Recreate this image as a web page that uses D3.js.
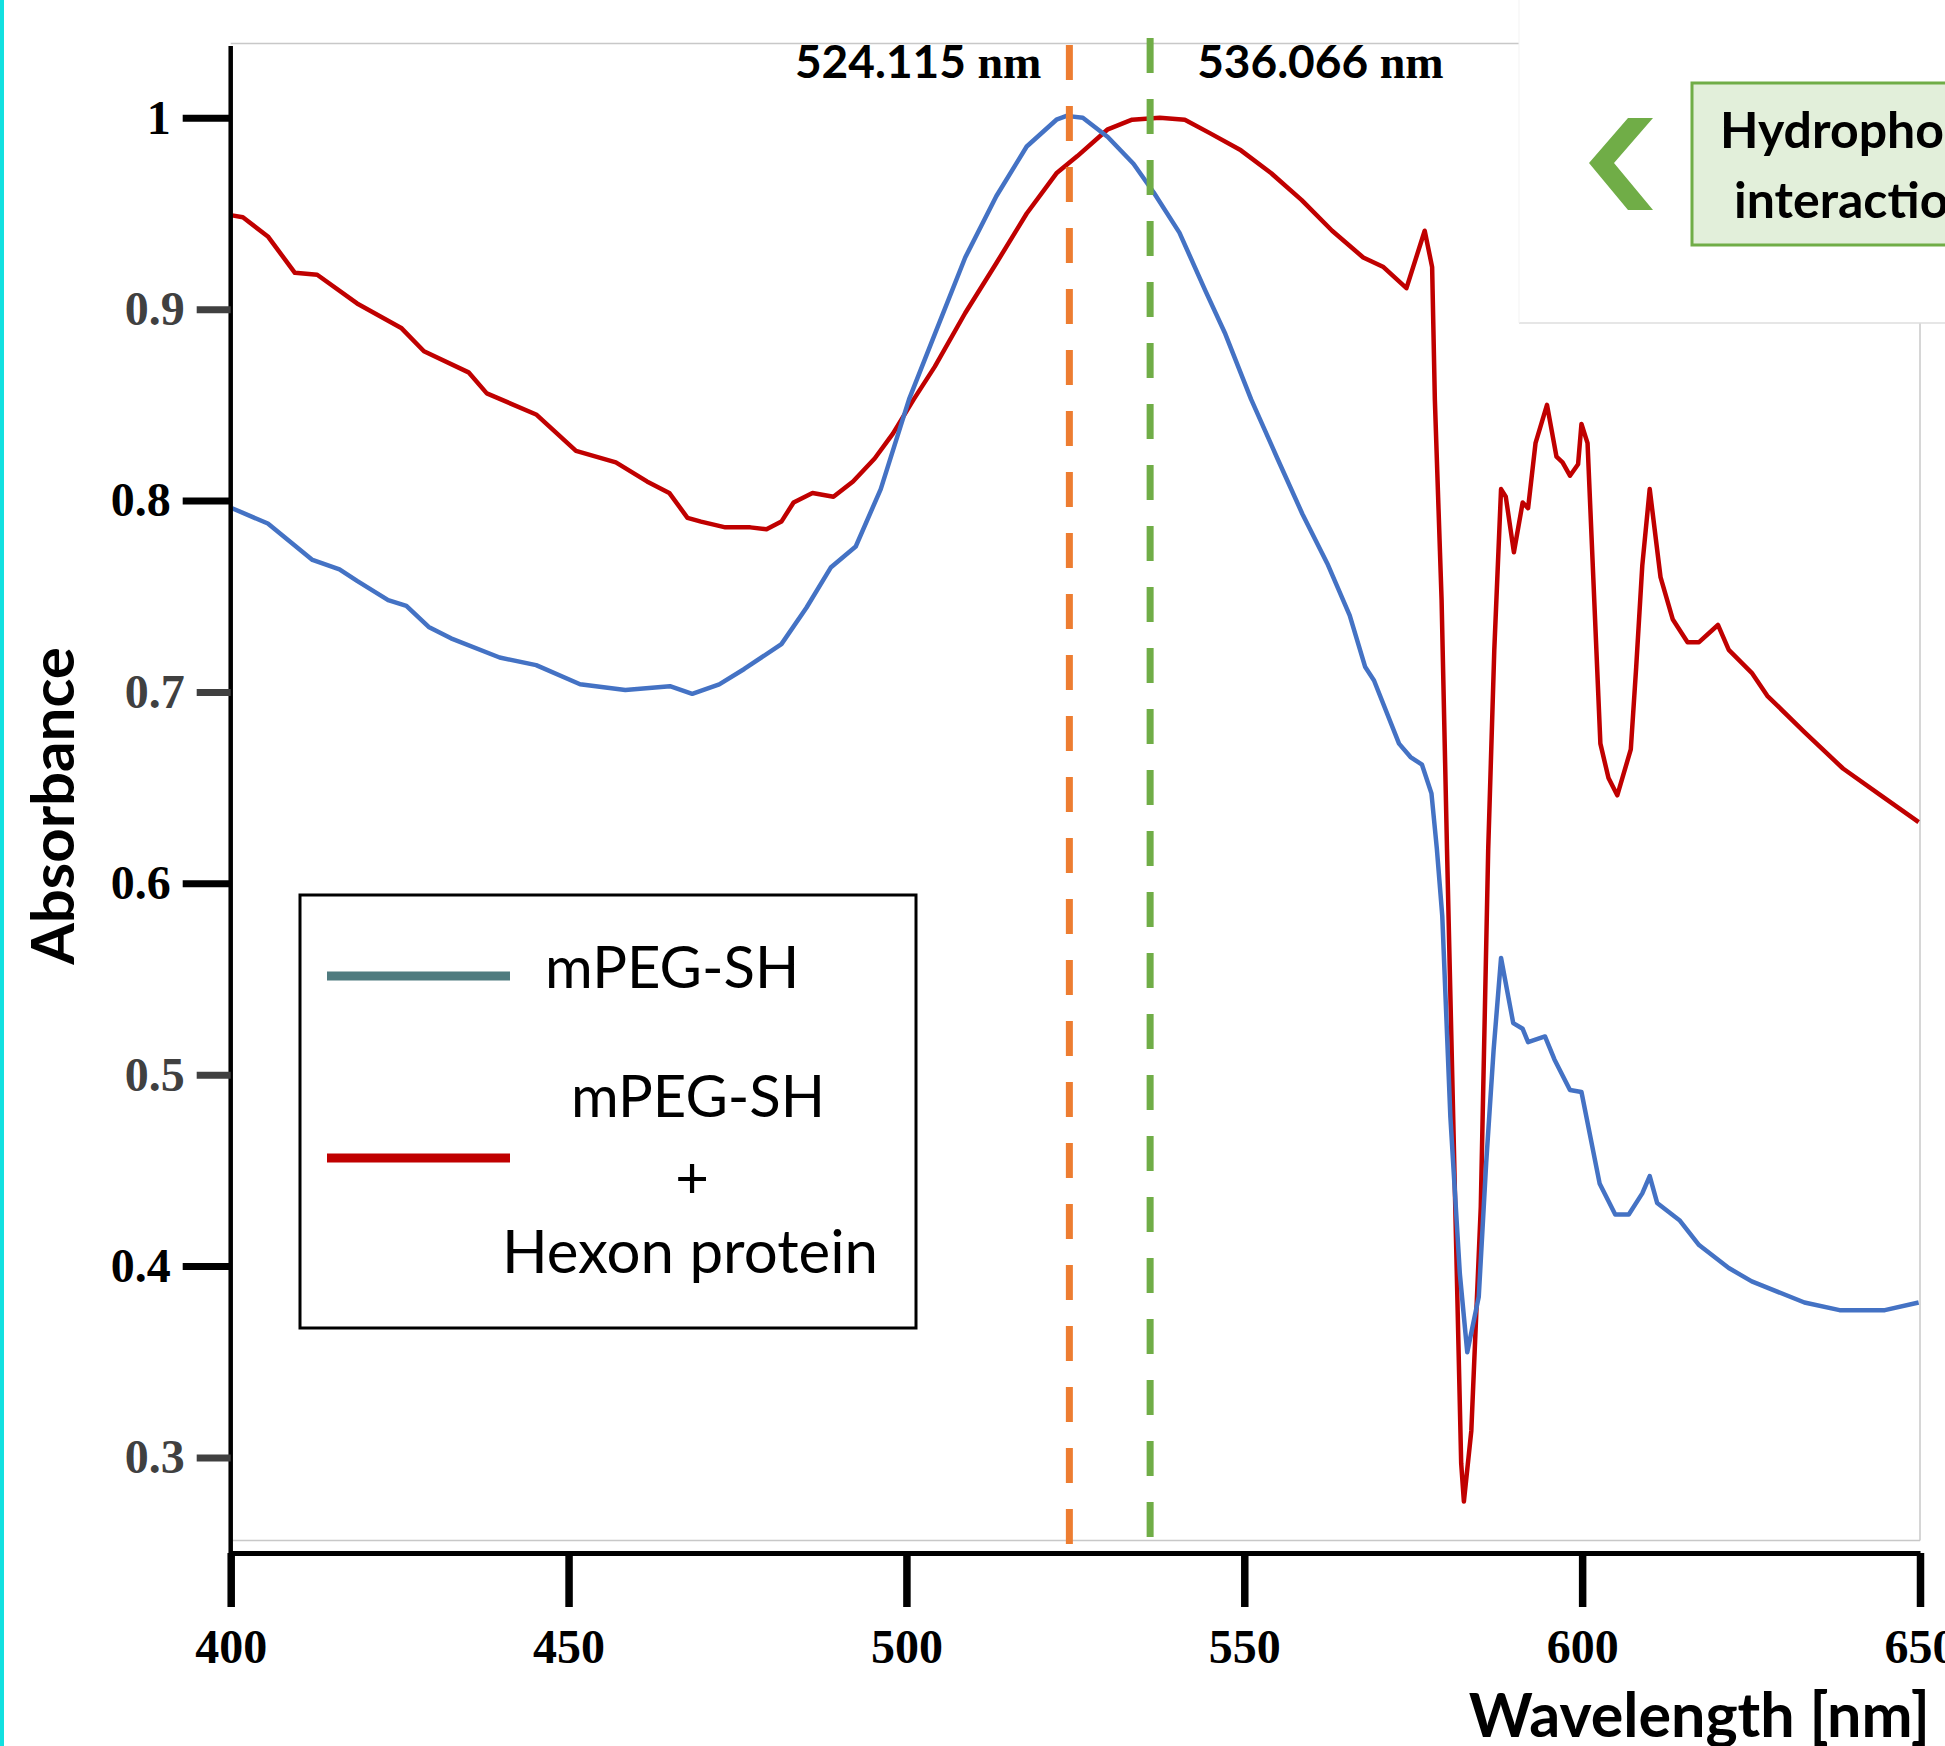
<!DOCTYPE html>
<html>
<head>
<meta charset="utf-8">
<script src="https://cdn.jsdelivr.net/npm/d3@7"></script>
<style>
  body { margin: 0; background: #fff; }
  svg { display: block; }
</style>
</head>
<body>
<svg id="chart" width="1945" height="1746"></svg>
<script>
// Values (wavelength in nm, normalised absorbance)
const blueWl = [400.2,405.5,412.1,416.1,418.7,423.3,426.0,429.3,432.6,439.8,445.2,451.7,458.4,465.0,468.3,472.3,476.0,481.5,485.2,488.8,492.5,496.2,500.4,504.2,508.7,513.3,517.8,522.2,523.7,526.1,529.8,533.6,536.6,540.4,544.2,547.2,551.0,554.9,558.6,562.3,565.6,567.9,569.2,572.9,574.6,576.3,577.7,578.5,579.3,580.5,581.9,583.0,584.7,585.8,586.9,588.0,589.8,591.2,592.0,594.5,595.9,598.2,599.9,602.6,604.9,606.9,608.9,610.0,611.1,614.4,617.3,621.7,625.1,632.9,638.1,644.8,649.8];
const blueAbs = [0.796,0.788,0.769,0.764,0.758,0.748,0.745,0.734,0.728,0.718,0.714,0.704,0.701,0.703,0.699,0.704,0.712,0.725,0.744,0.765,0.776,0.806,0.853,0.887,0.927,0.959,0.985,0.999,1.001,1.000,0.990,0.976,0.961,0.940,0.910,0.887,0.853,0.822,0.793,0.767,0.740,0.713,0.706,0.673,0.666,0.662,0.647,0.618,0.583,0.478,0.396,0.355,0.384,0.454,0.513,0.561,0.527,0.524,0.517,0.520,0.508,0.492,0.491,0.443,0.427,0.427,0.438,0.447,0.433,0.424,0.411,0.399,0.392,0.381,0.377,0.377,0.381];

const redWl = [400.2,401.8,405.5,409.5,412.8,418.7,425.3,428.6,435.2,437.9,445.2,451.1,457.0,461.6,464.9,467.6,469.6,473.2,476.9,479.3,481.5,483.3,486.1,489.2,492.1,495.3,498.0,501.1,504.2,508.7,513.3,517.8,522.2,525.3,529.8,533.4,537.5,541.2,544.9,549.5,554.0,558.5,563.0,567.6,570.6,574.0,576.7,577.8,578.2,579.2,580.0,582.1,582.5,583.6,585.0,586.1,587.0,588.0,588.7,589.9,591.2,592.0,593.1,594.8,596.2,597.1,598.2,599.4,599.9,600.8,602.7,603.9,605.2,607.2,608.0,608.9,610.0,611.6,613.4,615.6,617.3,620.1,621.7,625.1,627.4,632.9,638.6,644.2,649.8];
const redAbs = [0.949,0.948,0.938,0.919,0.918,0.903,0.890,0.878,0.867,0.856,0.845,0.826,0.820,0.810,0.804,0.791,0.789,0.786,0.786,0.785,0.789,0.799,0.804,0.802,0.810,0.822,0.835,0.853,0.870,0.898,0.924,0.950,0.971,0.980,0.994,0.999,1.000,0.999,0.992,0.983,0.971,0.957,0.941,0.927,0.922,0.911,0.941,0.922,0.853,0.748,0.618,0.297,0.277,0.314,0.431,0.618,0.722,0.806,0.802,0.773,0.799,0.796,0.830,0.850,0.823,0.820,0.813,0.819,0.840,0.830,0.673,0.655,0.646,0.670,0.713,0.766,0.806,0.760,0.738,0.726,0.726,0.735,0.722,0.710,0.698,0.679,0.660,0.646,0.632];

const xTicks = [400, 450, 500, 550, 600, 650];
const yTicks = [0.3, 0.4, 0.5, 0.6, 0.7, 0.8, 0.9, 1];
const majorY = [0.4, 0.6, 0.8, 1];
const peakMarks = [524.115, 536.066];
const legendLines = [['mPEG-SH'], ['mPEG-SH', '+', 'Hexon protein']];
const noteLines = ['Hydrophobic', 'interaction'];

const SANS = 'Lato, "Open Sans", sans-serif';
const SERIF = '"Liberation Serif", "Times New Roman", serif';
const BLUE = '#4472C4', RED = '#C00000', ORANGE = '#ED7D31', GREEN = '#70AD47';

const svg = d3.select('#chart');
const plot = { left: 230.7, right: 1920, top: 43.4, bottom: 1540.6 };
const axisY = 1553;

const x = d3.scaleLinear().domain([400, 650]).range([plot.left, plot.right]);
const y = d3.scaleLinear().domain([0.3, 1]).range([1457.5, 117.8]);

// cyan strip on the left edge
svg.append('rect').attr('x', 0).attr('y', 0).attr('width', 4).attr('height', 1746).attr('fill', '#12E0E0');

// plot area frame (light grey)
const frame = svg.append('g').attr('stroke', '#c8c8c8').attr('stroke-width', 1.5);
frame.append('line').attr('x1', plot.left).attr('x2', 1519).attr('y1', plot.top).attr('y2', plot.top);
frame.append('line').attr('x1', plot.right).attr('x2', plot.right).attr('y1', 323).attr('y2', plot.bottom);
frame.append('line').attr('x1', plot.left).attr('x2', plot.right).attr('y1', plot.bottom).attr('y2', plot.bottom);

// spectra
const line = d3.line().x(d => x(d[0])).y(d => y(d[1]));
const redPts = redWl.map((w, i) => [w, redAbs[i]]);
const bluePts = blueWl.map((w, i) => [w, blueAbs[i]]);
svg.append('path').attr('d', line(redPts)).attr('fill', 'none')
  .attr('stroke', RED).attr('stroke-width', 4.5).attr('stroke-linejoin', 'round');
svg.append('path').attr('d', line(bluePts)).attr('fill', 'none')
  .attr('stroke', BLUE).attr('stroke-width', 4.5).attr('stroke-linejoin', 'round');

// peak markers
svg.append('line').attr('x1', x(peakMarks[0])).attr('x2', x(peakMarks[0]))
  .attr('y1', 45).attr('y2', 1547).attr('stroke', ORANGE).attr('stroke-width', 7)
  .attr('stroke-dasharray', '35,26');
svg.append('line').attr('x1', x(peakMarks[1])).attr('x2', x(peakMarks[1]))
  .attr('y1', 38).attr('y2', 1541).attr('stroke', GREEN).attr('stroke-width', 7)
  .attr('stroke-dasharray', '35,26');

const fmtPeak = d3.format('.3f');
peakMarks.forEach((p, i) => {
  const t = svg.append('text')
    .attr('x', i === 0 ? x(p) - 28 : x(p) + 47)
    .attr('y', 78)
    .attr('text-anchor', i === 0 ? 'end' : 'start')
    .attr('font-family', SANS).attr('font-weight', 700).attr('font-size', 46);
  t.append('tspan').text(fmtPeak(p));
  t.append('tspan').attr('font-family', SERIF).text(' nm');
});

// y axis
svg.append('line').attr('x1', plot.left).attr('x2', plot.left).attr('y1', 46).attr('y2', axisY + 2)
  .attr('stroke', '#000').attr('stroke-width', 4.5);

const yAxis = svg.append('g').attr('transform', `translate(${plot.left},0)`)
  .call(d3.axisLeft(y).tickValues(yTicks).tickFormat(d => String(d)).tickSizeOuter(0));
yAxis.select('.domain').remove();
yAxis.selectAll('.tick').each(function(d) {
  const major = majorY.includes(d);
  const len = major ? 48 : 34;
  const col = major ? '#000' : '#404040';
  const g = d3.select(this);
  g.select('line').attr('x2', -len).attr('stroke', col).attr('stroke-width', 7);
  g.select('text').attr('x', -len - 12).attr('fill', col)
    .attr('font-family', SERIF).attr('font-weight', 700).attr('font-size', 48);
});

// x axis
const xAxis = svg.append('g').attr('transform', `translate(0,${axisY})`)
  .call(d3.axisBottom(x).tickValues(xTicks).tickSize(54).tickSizeOuter(0).tickPadding(22));
xAxis.select('.domain').attr('stroke', '#000').attr('stroke-width', 5);
xAxis.selectAll('.tick line').attr('stroke', '#000').attr('stroke-width', 7.5);
xAxis.selectAll('.tick text').attr('fill', '#000')
  .attr('font-family', SERIF).attr('font-weight', 700).attr('font-size', 48);

// axis titles
svg.append('text').attr('transform', 'translate(74,806) rotate(-90)')
  .attr('text-anchor', 'middle').attr('font-family', SANS).attr('font-weight', 700)
  .attr('font-size', 60).text('Absorbance');
svg.append('text').attr('x', 1930).attr('y', 1737).attr('text-anchor', 'end')
  .attr('font-family', SANS).attr('font-weight', 700).attr('font-size', 61)
  .text('Wavelength [nm]');

// legend
const lg = svg.append('g');
lg.append('rect').attr('x', 300).attr('y', 895).attr('width', 616).attr('height', 433)
  .attr('fill', '#fff').attr('stroke', '#000').attr('stroke-width', 3);
lg.append('line').attr('x1', 327).attr('x2', 510).attr('y1', 976).attr('y2', 976)
  .attr('stroke', '#4F7B7F').attr('stroke-width', 9);
lg.append('line').attr('x1', 327).attr('x2', 510).attr('y1', 1158).attr('y2', 1158)
  .attr('stroke', RED).attr('stroke-width', 9);
lg.append('text').attr('x', 545).attr('y', 988).attr('font-family', SANS)
  .attr('font-size', 58).text(legendLines[0][0]);
const second = [[698, 1117], [692, 1198], [690, 1273]];
legendLines[1].forEach((s, i) => {
  lg.append('text').attr('x', second[i][0]).attr('y', second[i][1])
    .attr('text-anchor', 'middle').attr('font-family', SANS)
    .attr('font-size', i === 2 ? 60 : 58).text(s);
});

// top-right annotation panel (pasted white panel with a faint lower edge)
const note = svg.append('g');
note.append('rect').attr('x', 1519).attr('y', 0).attr('width', 426).attr('height', 323)
  .attr('fill', '#fff');
note.append('line').attr('x1', 1519).attr('x2', 1945).attr('y1', 323).attr('y2', 323)
  .attr('stroke', '#dedede').attr('stroke-width', 1.5);
note.append('line').attr('x1', 1519).attr('x2', 1519).attr('y1', 0).attr('y2', 323)
  .attr('stroke', '#f3f3f3').attr('stroke-width', 1);
note.append('polygon')
  .attr('points', '1628,118 1653,118 1614,163 1653,210 1628,210 1589,163')
  .attr('fill', GREEN);
note.append('rect').attr('x', 1692).attr('y', 83).attr('width', 300).attr('height', 162)
  .attr('fill', '#E2EFDA').attr('stroke', GREEN).attr('stroke-width', 3);
note.append('text').attr('x', 1720).attr('y', 148).attr('font-family', SANS)
  .attr('font-weight', 700).attr('font-size', 50).text(noteLines[0]);
note.append('text').attr('x', 1734).attr('y', 218).attr('font-family', SANS)
  .attr('font-weight', 700).attr('font-size', 50).text(noteLines[1]);
</script>
</body>
</html>
